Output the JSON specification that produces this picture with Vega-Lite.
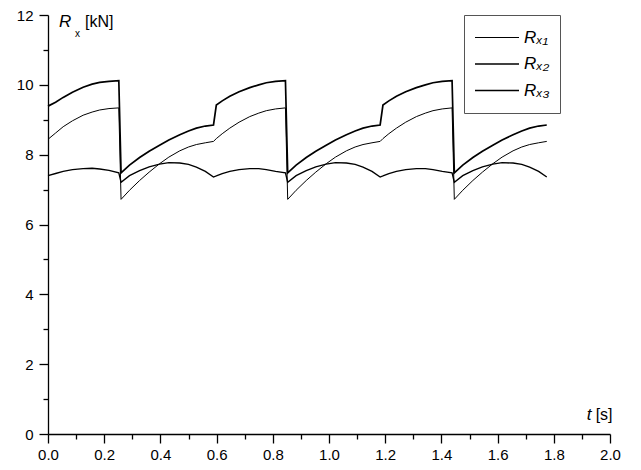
{
  "$schema": "https://vega.github.io/schema/vega-lite/v6.json",
  "width": 562,
  "height": 419,
  "autosize": {"type": "none"},
  "padding": {"left": 48, "top": 15, "right": 31, "bottom": 36},
  "config": {
    "view": {"stroke": null},
    "font": "Liberation Sans",
    "axis": {
      "grid": false,
      "domainColor": "black",
      "domainWidth": 1.3,
      "tickColor": "black",
      "tickWidth": 1.3,
      "labelColor": "black",
      "labelFont": "Liberation Sans",
      "labelFontSize": 15,
      "labelOverlap": false,
      "labelFlush": false,
      "title": null
    }
  },
  "resolve": {"axis": {"x": "independent", "y": "independent"}},
  "layer": [
    {
      "data": {
        "values": [
          {"t": 0.000, "Rx1": 8.44, "Rx2": 7.40, "Rx3": 9.39},
          {"t": 0.027, "Rx1": 8.62, "Rx2": 7.46, "Rx3": 9.50},
          {"t": 0.054, "Rx1": 8.80, "Rx2": 7.52, "Rx3": 9.64},
          {"t": 0.087, "Rx1": 8.97, "Rx2": 7.57, "Rx3": 9.79},
          {"t": 0.125, "Rx1": 9.13, "Rx2": 7.60, "Rx3": 9.93},
          {"t": 0.157, "Rx1": 9.22, "Rx2": 7.61, "Rx3": 10.02},
          {"t": 0.184, "Rx1": 9.28, "Rx2": 7.59, "Rx3": 10.07},
          {"t": 0.217, "Rx1": 9.32, "Rx2": 7.55, "Rx3": 10.10},
          {"t": 0.252, "Rx1": 9.34, "Rx2": 7.48, "Rx3": 10.12},
          {"t": 0.260, "Rx1": 6.72, "Rx2": 7.21, "Rx3": 7.48},
          {"t": 0.290, "Rx1": 6.98, "Rx2": 7.40, "Rx3": 7.70},
          {"t": 0.326, "Rx1": 7.26, "Rx2": 7.54, "Rx3": 7.92},
          {"t": 0.360, "Rx1": 7.50, "Rx2": 7.65, "Rx3": 8.10},
          {"t": 0.397, "Rx1": 7.74, "Rx2": 7.73, "Rx3": 8.27},
          {"t": 0.430, "Rx1": 7.93, "Rx2": 7.77, "Rx3": 8.42},
          {"t": 0.469, "Rx1": 8.11, "Rx2": 7.76, "Rx3": 8.57},
          {"t": 0.500, "Rx1": 8.22, "Rx2": 7.72, "Rx3": 8.68},
          {"t": 0.528, "Rx1": 8.29, "Rx2": 7.64, "Rx3": 8.76},
          {"t": 0.560, "Rx1": 8.34, "Rx2": 7.52, "Rx3": 8.82},
          {"t": 0.589, "Rx1": 8.38, "Rx2": 7.36, "Rx3": 8.85},
          {"t": 0.599, "Rx1": 8.46, "Rx2": 7.39, "Rx3": 9.42},
          {"t": 0.620, "Rx1": 8.60, "Rx2": 7.46, "Rx3": 9.54},
          {"t": 0.647, "Rx1": 8.76, "Rx2": 7.52, "Rx3": 9.67},
          {"t": 0.680, "Rx1": 8.93, "Rx2": 7.57, "Rx3": 9.80},
          {"t": 0.718, "Rx1": 9.09, "Rx2": 7.60, "Rx3": 9.92},
          {"t": 0.750, "Rx1": 9.19, "Rx2": 7.60, "Rx3": 10.00},
          {"t": 0.777, "Rx1": 9.26, "Rx2": 7.57, "Rx3": 10.06},
          {"t": 0.810, "Rx1": 9.31, "Rx2": 7.52, "Rx3": 10.10},
          {"t": 0.845, "Rx1": 9.34, "Rx2": 7.48, "Rx3": 10.12},
          {"t": 0.853, "Rx1": 6.72, "Rx2": 7.21, "Rx3": 7.48},
          {"t": 0.883, "Rx1": 6.98, "Rx2": 7.40, "Rx3": 7.70},
          {"t": 0.919, "Rx1": 7.26, "Rx2": 7.54, "Rx3": 7.92},
          {"t": 0.953, "Rx1": 7.50, "Rx2": 7.65, "Rx3": 8.10},
          {"t": 0.990, "Rx1": 7.74, "Rx2": 7.73, "Rx3": 8.27},
          {"t": 1.023, "Rx1": 7.93, "Rx2": 7.77, "Rx3": 8.42},
          {"t": 1.062, "Rx1": 8.11, "Rx2": 7.76, "Rx3": 8.57},
          {"t": 1.093, "Rx1": 8.22, "Rx2": 7.72, "Rx3": 8.68},
          {"t": 1.121, "Rx1": 8.29, "Rx2": 7.64, "Rx3": 8.76},
          {"t": 1.153, "Rx1": 8.34, "Rx2": 7.52, "Rx3": 8.82},
          {"t": 1.182, "Rx1": 8.38, "Rx2": 7.36, "Rx3": 8.85},
          {"t": 1.192, "Rx1": 8.46, "Rx2": 7.39, "Rx3": 9.42},
          {"t": 1.213, "Rx1": 8.60, "Rx2": 7.46, "Rx3": 9.54},
          {"t": 1.240, "Rx1": 8.76, "Rx2": 7.52, "Rx3": 9.67},
          {"t": 1.273, "Rx1": 8.93, "Rx2": 7.57, "Rx3": 9.80},
          {"t": 1.311, "Rx1": 9.09, "Rx2": 7.60, "Rx3": 9.92},
          {"t": 1.343, "Rx1": 9.19, "Rx2": 7.60, "Rx3": 10.00},
          {"t": 1.370, "Rx1": 9.26, "Rx2": 7.57, "Rx3": 10.06},
          {"t": 1.403, "Rx1": 9.31, "Rx2": 7.52, "Rx3": 10.10},
          {"t": 1.438, "Rx1": 9.34, "Rx2": 7.48, "Rx3": 10.12},
          {"t": 1.446, "Rx1": 6.72, "Rx2": 7.21, "Rx3": 7.48},
          {"t": 1.476, "Rx1": 6.98, "Rx2": 7.40, "Rx3": 7.70},
          {"t": 1.512, "Rx1": 7.26, "Rx2": 7.54, "Rx3": 7.92},
          {"t": 1.546, "Rx1": 7.50, "Rx2": 7.65, "Rx3": 8.10},
          {"t": 1.583, "Rx1": 7.74, "Rx2": 7.73, "Rx3": 8.27},
          {"t": 1.616, "Rx1": 7.93, "Rx2": 7.77, "Rx3": 8.42},
          {"t": 1.655, "Rx1": 8.11, "Rx2": 7.76, "Rx3": 8.57},
          {"t": 1.686, "Rx1": 8.22, "Rx2": 7.72, "Rx3": 8.68},
          {"t": 1.714, "Rx1": 8.29, "Rx2": 7.64, "Rx3": 8.76},
          {"t": 1.746, "Rx1": 8.34, "Rx2": 7.52, "Rx3": 8.82},
          {"t": 1.775, "Rx1": 8.38, "Rx2": 7.36, "Rx3": 8.85}
        ]
      },
      "transform": [{"fold": ["Rx1", "Rx2", "Rx3"], "as": ["key", "v"]}],
      "mark": {"type": "line", "color": "black", "strokeJoin": "miter"},
      "encoding": {
        "x": {
          "field": "t",
          "type": "quantitative",
          "scale": {"domain": [0, 2], "nice": false},
          "axis": {
            "orient": "bottom",
            "values": [0, 0.2, 0.4, 0.6, 0.8, 1.0, 1.2, 1.4, 1.6, 1.8, 2.0],
            "format": ".1f",
            "tickSize": 9,
            "labelPadding": 4
          }
        },
        "y": {
          "field": "v",
          "type": "quantitative",
          "scale": {"domain": [0, 12], "nice": false},
          "axis": {
            "orient": "left",
            "values": [0, 2, 4, 6, 8, 10, 12],
            "tickSize": 9,
            "labelPadding": 6
          }
        },
        "strokeWidth": {
          "field": "key",
          "type": "ordinal",
          "scale": {"domain": ["Rx1", "Rx2", "Rx3"], "range": [1.0, 1.7, 3.0]},
          "legend": {
            "orient": "none",
            "legendX": 416,
            "legendY": 0,
            "title": null,
            "strokeColor": "#555555",
            "fillColor": "white",
            "padding": 10,
            "symbolType": "stroke",
            "symbolStrokeColor": "black",
            "symbolSize": 1936,
            "clipHeight": 25,
            "rowPadding": 1.5,
            "labelFont": "Liberation Sans",
            "labelFontSize": 17,
            "labelFontStyle": "italic",
            "labelColor": "black",
            "labelOffset": 4,
            "labelExpr": "datum.value == 'Rx1' ? 'Rₓ₁' : datum.value == 'Rx2' ? 'Rₓ₂' : 'Rₓ₃'"
          }
        }
      }
    },
    {
      "data": {"values": [{"t": 0, "v": 0}, {"t": 2, "v": 12}]},
      "mark": {"type": "point", "opacity": 0},
      "encoding": {
        "x": {
          "field": "t",
          "type": "quantitative",
          "axis": {
            "orient": "bottom",
            "values": [0.1, 0.3, 0.5, 0.7, 0.9, 1.1, 1.3, 1.5, 1.7, 1.9],
            "tickSize": 5,
            "labels": false,
            "domain": false
          }
        },
        "y": {
          "field": "v",
          "type": "quantitative",
          "axis": {
            "orient": "left",
            "values": [1, 3, 5, 7, 9, 11],
            "tickSize": 5,
            "labels": false,
            "domain": false
          }
        }
      }
    },
    {
      "data": {"values": [{}]},
      "mark": {"type": "text", "text": "R", "font": "Liberation Sans", "fontSize": 17, "fontStyle": "italic", "align": "left", "baseline": "alphabetic", "color": "black"},
      "encoding": {"x": {"datum": 0.039, "axis": null}, "y": {"datum": 11.65, "axis": null}}
    },
    {
      "data": {"values": [{}]},
      "mark": {"type": "text", "text": "x", "font": "Liberation Sans", "fontSize": 10, "align": "left", "baseline": "alphabetic", "dx": 16, "dy": 10, "color": "black"},
      "encoding": {"x": {"datum": 0.039, "axis": null}, "y": {"datum": 11.65, "axis": null}}
    },
    {
      "data": {"values": [{}]},
      "mark": {"type": "text", "text": "[kN]", "font": "Liberation Sans", "fontSize": 16, "align": "left", "baseline": "alphabetic", "dx": 26, "color": "black"},
      "encoding": {"x": {"datum": 0.039, "axis": null}, "y": {"datum": 11.65, "axis": null}}
    },
    {
      "data": {"values": [{}]},
      "mark": {"type": "text", "text": "t", "font": "Liberation Sans", "fontSize": 17, "fontStyle": "italic", "align": "left", "baseline": "alphabetic", "color": "black"},
      "encoding": {"x": {"datum": 1.917, "axis": null}, "y": {"datum": 0.387, "axis": null}}
    },
    {
      "data": {"values": [{}]},
      "mark": {"type": "text", "text": "[s]", "font": "Liberation Sans", "fontSize": 16, "align": "left", "baseline": "alphabetic", "dx": 9, "color": "black"},
      "encoding": {"x": {"datum": 1.917, "axis": null}, "y": {"datum": 0.387, "axis": null}}
    }
  ]
}
